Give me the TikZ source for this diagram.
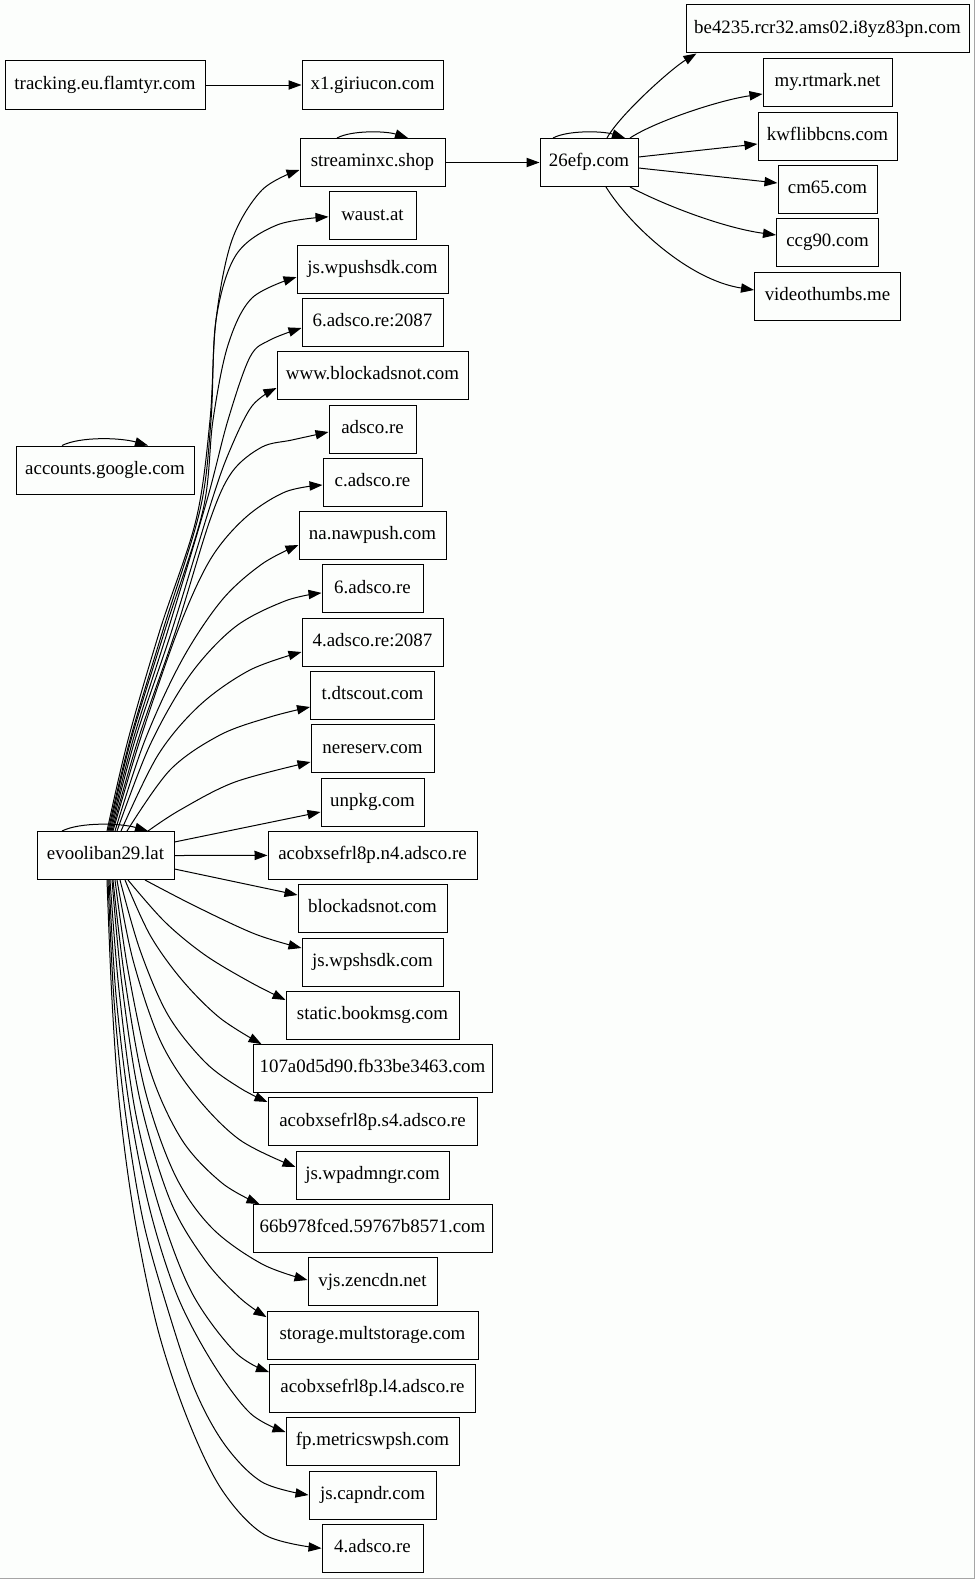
\documentclass[tikz,border=0pt]{standalone}
\usepackage{fontspec}
\setmainfont{Liberation Serif}
\usetikzlibrary{arrows.meta}
\definecolor{bgc}{RGB}{252,254,252}
\definecolor{frm}{RGB}{165,165,165}
\newcommand\nf{\fontsize{18.9}{20}\selectfont}
\begin{document}
\begin{tikzpicture}[x=1pt,y=-1pt,
  nd/.style={draw=black, line width=1pt, rectangle, minimum height=48pt, inner sep=0pt,
     text height=13pt, text depth=4.5pt, font=\nf},
  conn/.style={line width=1pt, -{Triangle[length=13pt,width=9.3pt]}},
  sm/.style={conn, smooth, tension=0.55}]
\useasboundingbox (0,0) rectangle (975,1579);
\fill[bgc] (0,0) rectangle (975,1579);
\draw[frm, line width=1pt] (974.5,0) -- (974.5,1578.5) -- (0,1578.5);

% left rank
\node[nd, minimum width=200pt] (trk) at (105,85) {tracking.eu.flamtyr.com};
\node[nd, minimum width=178pt] (acc) at (105,470) {accounts.google.com};
\node[nd, minimum width=137pt] (evo) at (105.5,855.5) {evooliban29.lat};

% middle rank
\node[nd, minimum width=141pt] (x1) at (372.5,85) {x1.giriucon.com};
\node[nd, minimum width=145pt] (s0) at (372.5,162.5) {streaminxc.shop};
\node[nd, minimum width=87pt]  (s1) at (372.5,215.8) {waust.at};
\node[nd, minimum width=151pt] (s2) at (372.5,269.1) {js.wpushsdk.com};
\node[nd, minimum width=141pt] (s3) at (372.5,322.4) {6.adsco.re:2087};
\node[nd, minimum width=191pt] (s4) at (372.5,375.7) {www.blockadsnot.com};
\node[nd, minimum width=87pt]  (s5) at (372.5,429.0) {adsco.re};
\node[nd, minimum width=99pt]  (s6) at (372.5,482.3) {c.adsco.re};
\node[nd, minimum width=147pt] (s7) at (372.5,535.6) {na.nawpush.com};
\node[nd, minimum width=101pt] (s8) at (372.5,588.9) {6.adsco.re};
\node[nd, minimum width=141pt] (s9) at (372.5,642.2) {4.adsco.re:2087};
\node[nd, minimum width=124pt] (s10) at (372.5,695.5) {t.dtscout.com};
\node[nd, minimum width=123pt] (s11) at (372.5,748.8) {nereserv.com};
\node[nd, minimum width=103pt] (s12) at (372.5,802.1) {unpkg.com};
\node[nd, minimum width=209pt] (s13) at (372.5,855.4) {acobxsefrl8p.n4.adsco.re};
\node[nd, minimum width=149pt] (s14) at (372.5,908.7) {blockadsnot.com};
\node[nd, minimum width=141pt] (s15) at (372.5,962.0) {js.wpshsdk.com};
\node[nd, minimum width=173pt] (s16) at (372.5,1015.3) {static.bookmsg.com};
\node[nd, minimum width=239pt] (s17) at (372.5,1068.6) {107a0d5d90.fb33be3463.com};
\node[nd, minimum width=209pt] (s18) at (372.5,1121.9) {acobxsefrl8p.s4.adsco.re};
\node[nd, minimum width=153pt] (s19) at (372.5,1175.2) {js.wpadmngr.com};
\node[nd, minimum width=239pt] (s20) at (372.5,1228.5) {66b978fced.59767b8571.com};
\node[nd, minimum width=129pt] (s21) at (372.5,1281.8) {vjs.zencdn.net};
\node[nd, minimum width=211pt] (s22) at (372.5,1335.1) {storage.multstorage.com};
\node[nd, minimum width=206pt] (s23) at (372.5,1388.4) {acobxsefrl8p.l4.adsco.re};
\node[nd, minimum width=173pt] (s24) at (372.5,1441.7) {fp.metricswpsh.com};
\node[nd, minimum width=127pt] (s25) at (372.5,1495.0) {js.capndr.com};
\node[nd, minimum width=101pt] (s26) at (372.5,1548.3) {4.adsco.re};

% third rank
\node[nd, minimum width=98pt] (efp) at (589,162.5) {26efp.com};

% right rank
\node[nd, minimum width=283pt] (r1) at (827.5,29) {be4235.rcr32.ams02.i8yz83pn.com};
\node[nd, minimum width=129pt] (r2) at (827.5,82.5) {my.rtmark.net};
\node[nd, minimum width=139pt] (r3) at (827.5,136) {kwflibbcns.com};
\node[nd, minimum width=99pt]  (r4) at (827.5,189) {cm65.com};
\node[nd, minimum width=102pt] (r5) at (827.5,242.5) {ccg90.com};
\node[nd, minimum width=146pt] (r6) at (827.5,296) {videothumbs.me};

% simple edges
\draw[conn] (trk.east) -- (x1.west);
\draw[conn] (s0.east) -- (efp.west);

% self loops
\draw[conn] ([xshift=-43pt]acc.north) .. controls +(18,-9) and +(-28,-8) .. ([xshift=43pt]acc.north);
\draw[conn] ([xshift=-43.5pt]evo.north) .. controls +(18,-9) and +(-28,-8) .. ([xshift=42.5pt]evo.north);
\draw[conn] ([xshift=-35.5pt]s0.north) .. controls +(15,-8) and +(-22,-7) .. ([xshift=35.5pt]s0.north);
\draw[conn] ([xshift=-36pt]efp.north) .. controls +(15,-8) and +(-22,-7) .. ([xshift=36pt]efp.north);

% 26efp fan
\draw[conn] ([xshift=18pt]efp.north) .. controls +(13,-23.5) and +(-25,15) .. ([xshift=11pt]r1.south west);
\draw[conn] ([xshift=41pt]efp.north) .. controls +(25,-16.5) and +(-43,6) .. ([yshift=-11.5pt]r2.west);
\draw[conn] ([yshift=5.5pt]efp.east) -- ([yshift=-8pt]r3.west);
\draw[conn] ([yshift=-5.5pt]efp.east) -- ([yshift=6pt]r4.west);
\draw[conn] ([xshift=41pt]efp.south) .. controls +(35,18.5) and +(-52,-7) .. ([yshift=7.5pt]r5.west);
\draw[conn] ([xshift=17pt]efp.south) .. controls +(24,38.5) and +(-65,-10) .. ([yshift=6pt]r6.west);

% evooliban upward fan
\draw[sm] plot coordinates {([xshift=1.5pt]evo.north) (128,740) (160,630) (196,520) (210,420) (216,320) (232,240) (262,190) ([yshift=-7.5pt]s0.west)};
\draw[sm] plot coordinates {([xshift=2.5pt]evo.north) (130,740) (163,630) (200,510) (211,420) (216,320) (236,255) (277,225) ([yshift=-1pt]s1.west)};
\draw[sm] plot coordinates {([xshift=3.5pt]evo.north) (131,740) (165,630) (203,510) (213,420) (228,345) (252,298) ([yshift=-8pt]s2.west)};
\draw[sm] plot coordinates {([xshift=4.5pt]evo.north) (133,740) (168,630) (207,500) (228,420) (250,357) (270,340) ([yshift=-5.6pt]s3.west)};
\draw[sm] plot coordinates {([xshift=5.5pt]evo.north) (135,740) (172,630) (212,500) (230,450) (252,406) ([yshift=-12.3pt]s4.west)};
\draw[sm] plot coordinates {([xshift=6.5pt]evo.north) (138,740) (176,630) (210,520) (232,472) (262,447) (292,440) ([yshift=-3pt]s5.west)};
\draw[sm] plot coordinates {([xshift=7.5pt]evo.north) (140,740) (178,630) (210,560) (245,518) (285,492) ([yshift=-2.7pt]s6.west)};
\draw[sm] plot coordinates {([xshift=9.5pt]evo.north) (145,740) (182,660) (222,600) (262,564) ([yshift=-9.4pt]s7.west)};
\draw[sm] plot coordinates {([xshift=11.5pt]evo.north) (150,745) (190,675) (235,627) (285,601) ([yshift=-4pt]s8.west)};
\draw[sm] plot coordinates {([xshift=15.5pt]evo.north) (158,755) (200,705) (250,670) ([yshift=-9.8pt]s9.west)};
\draw[sm] plot coordinates {([xshift=21.5pt]evo.north) (170,770) (220,735) (270,717) ([yshift=-11.5pt]s10.west)};
\draw[sm] plot coordinates {([xshift=42.5pt]evo.north) (180,810) (235,782) ([yshift=-13.2pt]s11.west)};
\draw[conn] ([yshift=13.5pt]evo.east) -- ([yshift=-9.9pt]s12.west);
\draw[conn] (evo.east) -- (s13.west);
\draw[conn] ([yshift=-13.5pt]evo.east) -- ([yshift=13.7pt]s14.west);

% evooliban downward fan
\draw[sm] plot coordinates {([xshift=39.5pt]evo.south) (195,906) (255,934) ([yshift=14pt]s15.west)};
\draw[sm] plot coordinates {([xshift=22.5pt]evo.south) (165,922) (205,955) (250,982) ([yshift=15.3pt]s16.west)};
\draw[sm] plot coordinates {([xshift=19.5pt]evo.south) (150,935) (182,980) (220,1018) ([xshift=9pt]s17.north west)};
\draw[sm] plot coordinates {([xshift=14.5pt]evo.south) (140,950) (168,1015) (205,1062) (240,1088) ([yshift=19.9pt]s18.west)};
\draw[sm] plot coordinates {([xshift=11.5pt]evo.south) (133,960) (160,1040) (195,1095) (240,1140) ([yshift=8.2pt]s19.west)};
\draw[sm] plot coordinates {([xshift=9.5pt]evo.south) (128,970) (150,1070) (182,1140) (222,1183) ([xshift=7pt]s20.north west)};
\draw[sm] plot coordinates {([xshift=7.5pt]evo.south) (125,980) (145,1090) (175,1175) (212,1228) (262,1264) ([yshift=1.8pt]s21.west)};
\draw[sm] plot coordinates {([xshift=6.5pt]evo.south) (122,985) (140,1100) (170,1200) (205,1260) (240,1298) ([yshift=18pt]s22.west)};
\draw[sm] plot coordinates {([xshift=4.5pt]evo.south) (119,990) (135,1110) (160,1210) (192,1293) (235,1352) ([yshift=16.4pt]s23.west)};
\draw[sm] plot coordinates {([xshift=3.5pt]evo.south) (116,995) (130,1110) (150,1210) (177,1295) (212,1362) (250,1413) ([yshift=9.7pt]s24.west)};
\draw[sm] plot coordinates {([xshift=2.5pt]evo.south) (114,1000) (125,1110) (143,1220) (168,1310) (195,1390) (225,1445) (262,1482) (s25.west)};
\draw[sm] plot coordinates {([xshift=1.5pt]evo.south) (112,1000) (120,1110) (135,1220) (158,1330) (188,1420) (222,1490) (265,1535) (s26.west)};
\end{tikzpicture}
\end{document}
